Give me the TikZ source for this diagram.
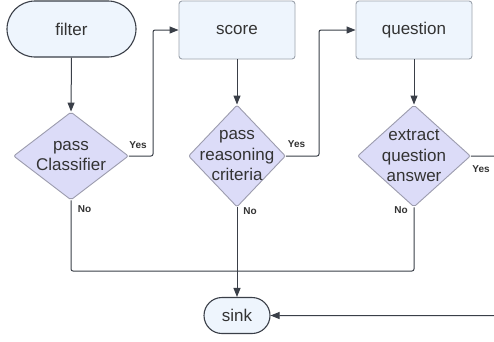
\documentclass[tikz,border=0pt]{standalone}
\usepackage{fontspec}
\setmainfont{Liberation Sans}
\usetikzlibrary{shapes.geometric,arrows.meta}
\definecolor{txt}{HTML}{333333}
\definecolor{ln}{HTML}{3A3F48}
\definecolor{boxfill}{HTML}{EEF5FD}
\definecolor{boxline}{HTML}{9CA3AD}
\definecolor{dfill}{HTML}{DCDCF8}
\definecolor{dline}{HTML}{9C9CAE}
\tikzset{
  term/.style={draw=ln, fill=boxfill, line width=1.1pt, rounded corners=#1, inner sep=0pt},
  procbox/.style={draw=boxline, fill=boxfill, line width=0.9pt, rounded corners=3pt, minimum width=116pt, minimum height=58pt, inner sep=0pt},
  decision/.style={diamond, draw=dline, fill=dfill, line width=0.9pt, rounded corners=2pt, inner sep=0pt},
  dtext/.style={text=txt, align=center, font=\fontsize{17}{20.5}\selectfont},
  lbl/.style={text=txt, font=\fontsize{10}{12}\selectfont\bfseries, inner sep=0pt},
  conn/.style={draw=ln, line width=1pt, rounded corners=2pt},
  arr/.style={conn, -{Triangle[length=9pt,width=7pt]}},
}
\begin{document}
\begin{tikzpicture}[x=1pt,y=-1pt]
\clip (0,0) rectangle (494,341);
\fill[white] (0,0) rectangle (494,341);
% terminals and boxes
\node[term=28pt, minimum width=129pt, minimum height=56pt] (filter) at (71.5,29) {};
\node[dtext] at (filter) {filter};
\node[procbox] (score) at (237,30) {};
\node[dtext] at (score) {score};
\node[procbox] (question) at (414,30) {};
\node[dtext] at (question) {question};
\node[term=18pt, minimum width=66pt, minimum height=36pt] (sink) at (237,315.5) {};
\node[dtext] at (sink) {sink};
% decisions
\node[decision, minimum width=115pt, minimum height=88pt] (d1) at (71,156) {};
\node[dtext] at (d1) {pass\\Classifier};
\node[decision, minimum width=97pt, minimum height=102pt] (d2) at (237,156) {};
\node[dtext] at (d2) {pass\\reasoning\\criteria};
\node[decision, minimum width=113pt, minimum height=102pt] (d3) at (414,156) {};
\node[dtext] at (d3) {extract\\question\\answer};
% helper coordinates
\coordinate (y1) at (153,0);
\coordinate (y2) at (319,0);
\coordinate (mrg) at (0,271);
\coordinate (rr) at (520,0);
% connectors
\draw[arr] (filter.south) -- (d1.north);
\draw[arr] (score.south) -- (d2.north);
\draw[arr] (question.south) -- (d3.north);
\draw[arr] (d1.east) -| (y1 |- score.west) -- (score.west);
\draw[arr] (d2.east) -| (y2 |- question.west) -- (question.west);
\draw[conn] (d1.south) -- (d1.south |- mrg) -- (d3.south |- mrg) -- (d3.south);
\draw[arr] (d2.south) -- (sink.north);
\draw[arr] (d3.east) -| (rr |- sink.east) -- (sink.east);
% labels
\node[lbl] (l1y) at (138,145) {Yes};
\node[lbl] (l1n) at (84.5,209.5) {No};
\node[lbl] (l2y) at (296.5,144) {Yes};
\node[lbl] (l2n) at (250,211.5) {No};
\node[lbl] (l3y) at (481,169.5) {Yes};
\node[lbl] (l3n) at (401,210) {No};
\end{tikzpicture}
\end{document}
